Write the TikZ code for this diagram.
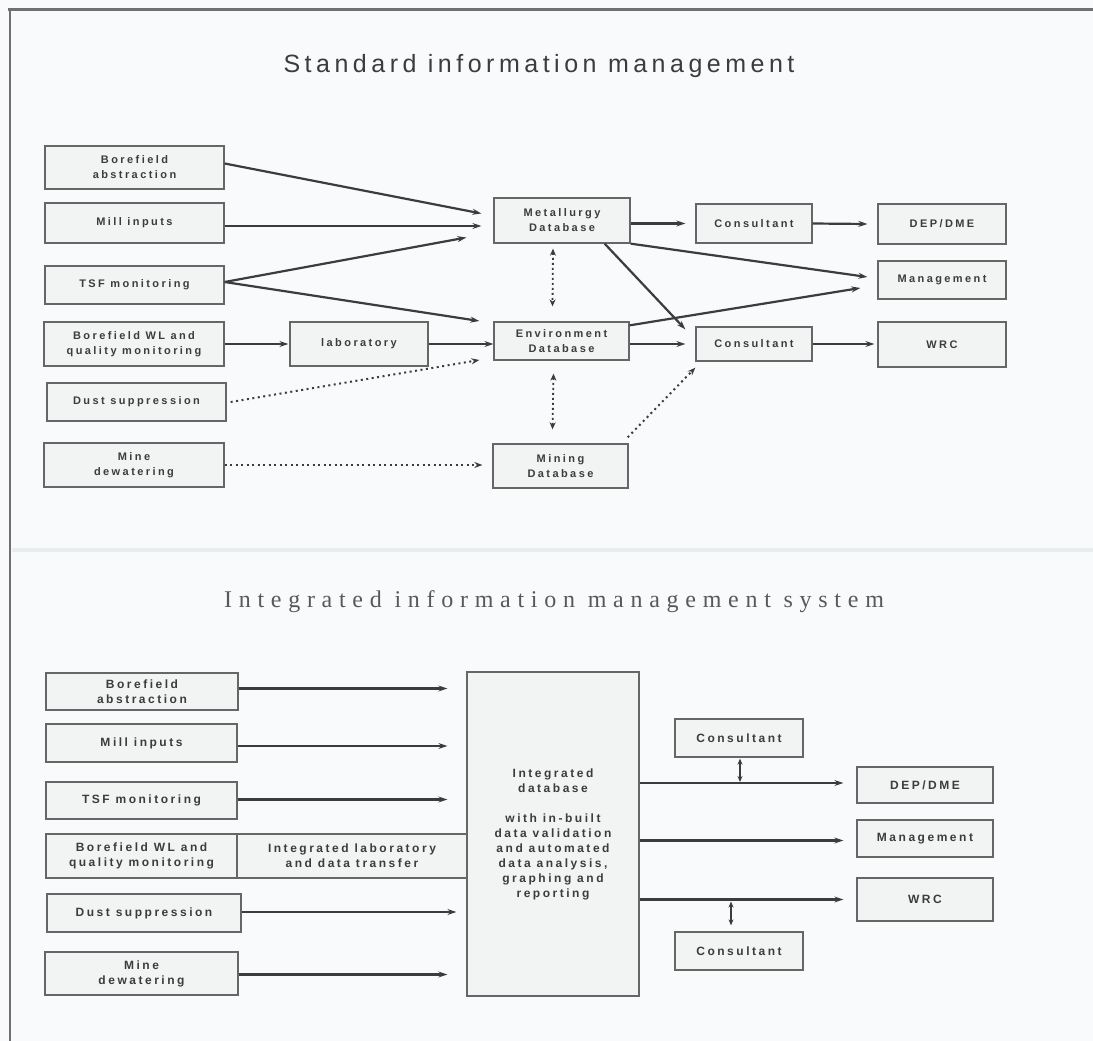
\documentclass[tikz,border=0pt]{standalone}
\usepackage{fontspec}
\usetikzlibrary{arrows.meta,calc}
\setmainfont{Liberation Sans}
\newfontfamily\boxfont{Liberation Sans Bold}[LetterSpace=22]
\newfontfamily\boxfontw{Liberation Sans Bold}[LetterSpace=21]
\newfontfamily\headfont{Liberation Sans}[LetterSpace=18]
\newfontfamily\headserif{Liberation Serif}[LetterSpace=28]

\definecolor{paper}{HTML}{F8FAFB}
\definecolor{boxfill}{HTML}{F2F4F4}
\definecolor{edge}{HTML}{666666}
\definecolor{ink}{HTML}{3C3C3C}
\definecolor{framec}{HTML}{707070}
\definecolor{sepc}{HTML}{E8EDF0}

\tikzset{
  tbox/.style={draw=edge, line width=1.3pt, fill=boxfill, text=ink,
    font=\boxfont\fontsize{11}{15}\selectfont, align=center, inner sep=0pt},
  bbox/.style={tbox, font=\boxfontw\fontsize{12}{15}\selectfont},
  arr/.style={draw=ink, line width=2.2pt, -{Stealth[length=9pt,width=6pt]}},
  dotarr/.style={draw=ink, line width=2pt, dash pattern=on 2pt off 3.5pt,
    -{Stealth[length=8pt,width=6pt]}},
  dotdbl/.style={draw=ink, line width=1.8pt, dash pattern=on 2pt off 3pt,
    {Stealth[length=7pt,width=6pt]}-{Stealth[length=7pt,width=6pt]}},
  dbl/.style={draw=ink, line width=1.5pt,
    {Stealth[length=6pt,width=5pt]}-{Stealth[length=6pt,width=5pt]}},
}

\begin{document}
\begin{tikzpicture}[x=1pt,y=-1pt]
\useasboundingbox (0,0) rectangle (1093,1041);
\fill[paper] (0,0) rectangle (1093,1041);

% page frame and faint separator
\draw[framec, line width=3pt] (8,10) -- (1093,10);
\draw[framec, line width=2pt] (10,10) -- (10,1041);
\draw[sepc, line width=4pt] (12,550) -- (1093,550);

% ---------- Standard information management ----------
\node[anchor=base, text=ink, font=\headfont\fontsize{25}{30}\selectfont] (t1) at (539,73)
  {Standard information management};

\node[tbox, minimum width=179pt, minimum height=43pt] (bfa) at (134.5,167.5) {Borefield\\abstraction};
\node[tbox, minimum width=179pt, minimum height=40pt] (mill) at (134.5,223) {Mill inputs};
\node[tbox, minimum width=179pt, minimum height=38pt] (tsf) at (134.5,285) {TSF monitoring};
\node[tbox, minimum width=180pt, minimum height=44pt] (bwl) at (134,344) {Borefield WL and\\quality monitoring};
\node[tbox, minimum width=138pt, minimum height=44pt] (lab) at (359,344) {laboratory};
\node[tbox, minimum width=179pt, minimum height=38pt] (dust) at (136.5,402) {Dust suppression};
\node[tbox, minimum width=180pt, minimum height=44pt] (mine) at (134,465) {Mine\\dewatering};

\node[tbox, minimum width=136pt, minimum height=45pt] (met) at (562,220.5) {Metallurgy\\Database};
\node[tbox, minimum width=135pt, minimum height=38pt] (env) at (561.5,341) {Environment\\Database};
\node[tbox, minimum width=135pt, minimum height=44pt] (mining) at (560.5,466) {Mining\\Database};

\node[tbox, minimum width=116pt, minimum height=39pt] (con1) at (754,223.5) {Consultant};
\node[tbox, minimum width=116pt, minimum height=34pt] (con2) at (754,344) {Consultant};

\node[tbox, minimum width=128pt, minimum height=40pt] (dep) at (942,224) {DEP/DME};
\node[tbox, minimum width=128pt, minimum height=38pt] (mgmt) at (942,280) {Management};
\node[tbox, minimum width=128pt, minimum height=45pt] (wrc) at (942,344.5) {WRC};

% sources into the databases
\draw[arr] ($(bfa.east)+(0,-4)$) -- ($(met.west)+(-12,-7)$);
\draw[arr] ($(mill.east)+(0,3)$) -- ($(met.west |- mill.east)+(-12,3)$);
\draw[arr] ($(tsf.east)+(0,-3)$) -- ($(met.west)+(-27,17)$);
\draw[arr] ($(tsf.east)+(0,-3)$) -- ($(env.west)+(-14,-20)$);
\draw[arr, shorten >=1pt] (bwl.east) -- (lab.west);
\draw[arr] (lab.east) -- (lab.east -| env.west);
\draw[dotarr] ($(dust.east)+(4,0)$) -- ($(env.west)+(-14,19)$);
\draw[dotarr] (mine.east) -- ($(mining.west |- mine.east)+(-10,0)$);

% database links
\draw[dotdbl] ($(met.south)+(-9,5)$) -- ($(env.north)+(-9,-15)$);
\draw[dotdbl] ($(env.south)+(-8,13)$) -- ($(mining.north)+(-8,-14)$);

% databases to consultants and recipients
\draw[arr] (met.east |- con1.west) -- ($(con1.west)+(-10,0)$);
\draw[arr] (con1.east) -- ($(dep.west)+(-10,0)$);
\draw[arr] (met.south east) -- ($(mgmt.west)+(-10,-3)$);
\draw[arr] ($(met.south east)+(-26,0)$) -- ($(con2.north west)+(-10,3)$);
\draw[arr] ($(env.north east)+(0,4)$) -- ($(mgmt.west)+(-17,8)$);
\draw[arr] (env.east |- con2.west) -- ($(con2.west)+(-10,0)$);
\draw[arr] (con2.east) -- ($(wrc.west |- con2.east)+(-3,0)$);
\draw[dotarr] ($(mining.north east)+(-1,-6)$) -- ($(con2.south west)+(0,6)$);

% ---------- Integrated information management system ----------
\node[anchor=base, text=ink!85, font=\headserif\fontsize{24}{30}\selectfont] (t2) at (554,607)
  {Integrated information management system};

\node[bbox, minimum width=192pt, minimum height=37pt] (bbfa) at (142,691.5) {Borefield\\abstraction};
\node[bbox, minimum width=191pt, minimum height=38pt] (bmill) at (141.5,743) {Mill inputs};
\node[bbox, minimum width=191pt, minimum height=37pt] (btsf) at (141.5,800.5) {TSF monitoring};
\node[bbox, minimum width=191pt, minimum height=44pt] (bbwl) at (141.5,856) {Borefield WL and\\quality monitoring};
\node[bbox, minimum width=230pt, minimum height=44pt] (blab) at (352,856) {Integrated laboratory\\and data transfer};
\node[bbox, minimum width=194pt, minimum height=38pt] (bdust) at (144,913) {Dust suppression};
\node[bbox, minimum width=193pt, minimum height=43pt] (bmine) at (141.5,973.5) {Mine\\dewatering};

\node[bbox, minimum width=172pt, minimum height=324pt] (db) at (553,834)
  {Integrated\\database\\[15pt]with in-built\\data validation\\and automated\\data analysis,\\graphing and\\reporting};

\node[bbox, minimum width=128pt, minimum height=38pt] (bcon1) at (739,738) {Consultant};
\node[bbox, minimum width=136pt, minimum height=36pt] (bdep) at (925,785) {DEP/DME};
\node[bbox, minimum width=136pt, minimum height=37pt] (bmgmt) at (925,838.5) {Management};
\node[bbox, minimum width=136pt, minimum height=43pt] (bwrc) at (925,899.5) {WRC};
\node[bbox, minimum width=128pt, minimum height=38pt] (bcon2) at (739,951) {Consultant};

% sources into the integrated database
\draw[arr] ($(bbfa.east)+(0,-3)$) -- ($(db.west |- bbfa.east)+(-19,-3)$);
\draw[arr] ($(bmill.east)+(0,3)$) -- ($(db.west |- bmill.east)+(-19,3)$);
\draw[arr] ($(btsf.east)+(0,-1)$) -- ($(db.west |- btsf.east)+(-19,-1)$);
\draw[arr] ($(bdust.east)+(0,-1)$) -- ($(db.west |- bdust.east)+(-10,-1)$);
\draw[arr] ($(bmine.east)+(0,1)$) -- ($(db.west |- bmine.east)+(-19,1)$);

% integrated database to recipients
\draw[arr] ($(db.east |- bdep.west)+(0,-2)$) -- ($(bdep.west)+(-13,-2)$);
\draw[arr] ($(db.east |- bmgmt.west)+(0,2)$) -- ($(bmgmt.west)+(-13,2)$);
\draw[arr] (db.east |- bwrc.west) -- ($(bwrc.west)+(-13,0)$);

% consultants on the reporting lines
\draw[dbl] ($(bcon1.south)+(1,1)$) -- ($(bcon1.south |- bdep.west)+(1,-3)$);
\draw[dbl] ($(bcon2.north |- bwrc.west)+(-8,2)$) -- ($(bcon2.north)+(-8,-6)$);
\end{tikzpicture}
\end{document}
